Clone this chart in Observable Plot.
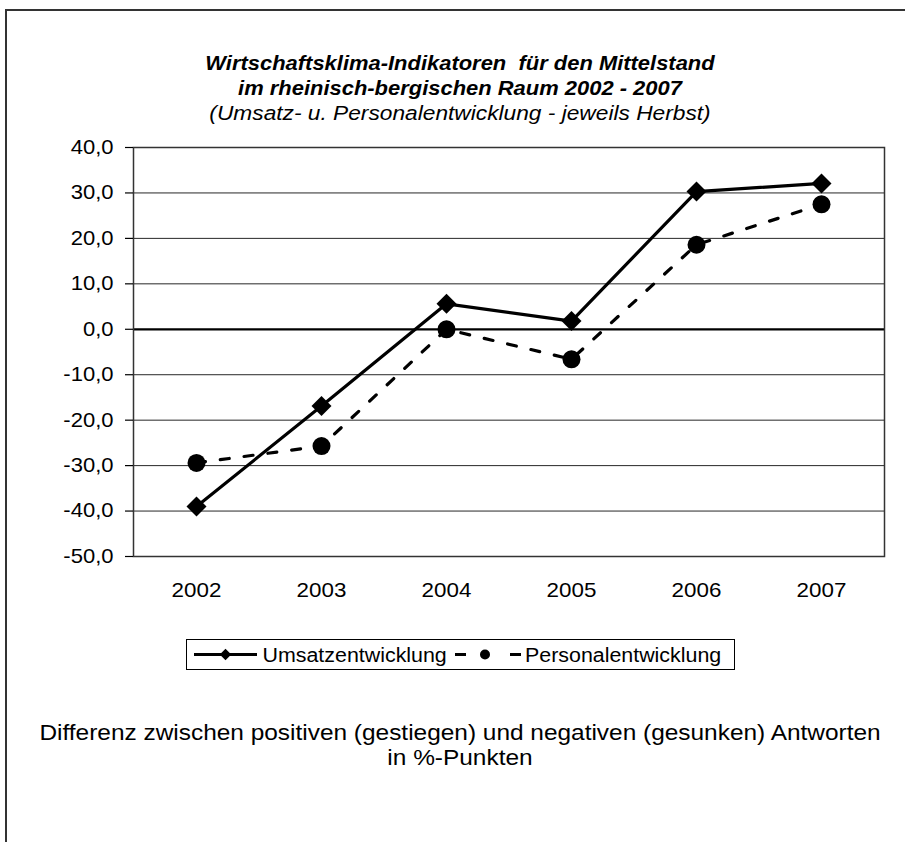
<!DOCTYPE html>
<html><head><meta charset="utf-8">
<script src="https://cdn.jsdelivr.net/npm/d3@7"></script>
<script src="https://cdn.jsdelivr.net/npm/@observablehq/plot@0.6"></script>
<style>
body{margin:0;background:#fff;font-family:"Liberation Sans",Arial,sans-serif;}
#wrap{position:relative;width:905px;height:842px;overflow:hidden;background:#fff;}
#frame{position:absolute;left:5px;top:9px;width:1000px;height:900px;border-left:2px solid #333;border-top:2px solid #333;z-index:2;pointer-events:none;}
.t{position:absolute;left:0;width:920px;text-align:center;color:#000;white-space:nowrap;font-family:"Liberation Sans",Arial,sans-serif;line-height:25px;transform-origin:460px 50%;}
#chart{position:absolute;left:0;top:0;}
#legend{position:absolute;left:186px;top:639px;}
</style></head><body>
<div id="wrap">
<div id="chart"></div>
<div id="frame"></div>
<div class="t" style="top:51px;font-size:20px;font-weight:bold;font-style:italic;transform:scaleX(1.097);">Wirtschaftsklima-Indikatoren&nbsp; für den Mittelstand</div>
<div class="t" style="top:76px;font-size:20px;font-weight:bold;font-style:italic;transform:scaleX(1.097);">im rheinisch-bergischen Raum 2002 - 2007</div>
<div class="t" style="top:101px;font-size:20px;font-style:italic;transform:scaleX(1.136);">(Umsatz- u. Personalentwicklung - jeweils Herbst)</div>
<svg id="legend" width="552" height="33"></svg>
<div class="t" style="top:720px;font-size:22px;transform:scaleX(1.11);">Differenz zwischen positiven (gestiegen) und negativen (gesunken) Antworten</div>
<div class="t" style="top:745px;font-size:22px;transform:scaleX(1.11);">in %-Punkten</div>
</div>
<script>
const years = ["2002", "2003", "2004", "2005", "2006", "2007"];
const umsatz = [-39.0, -16.9, 5.6, 1.8, 30.3, 32.1];
const personal = [-29.4, -25.7, 0.0, -6.6, 18.6, 27.5];
const yTicks = [40, 30, 20, 10, 0, -10, -20, -30, -40, -50];
const seriesNames = ["Umsatzentwicklung", "Personalentwicklung"];

const dataU = years.map((y, i) => ({year: y, value: umsatz[i]}));
const dataP = years.map((y, i) => ({year: y, value: personal[i]}));
const fmt = d => d.toFixed(1).replace(".", ",");

const chart = Plot.plot({
  width: 905,
  height: 620,
  marginLeft: 133,
  marginRight: 21,
  marginTop: 147,
  marginBottom: 64,
  style: {background: "transparent", fontFamily: "'Liberation Sans', Arial, sans-serif", fontSize: "20px", color: "#000", overflow: "visible"},
  x: {type: "point", domain: years, padding: 0.5, label: null},
  y: {domain: [-50, 40], label: null},
  marks: [
    Plot.ruleY(yTicks.filter(d => d !== 0 && d !== 40 && d !== -50), {stroke: "#000", strokeWidth: 1, strokeOpacity: 0.85}),
    Plot.ruleY([0], {stroke: "#000", strokeWidth: 2.3}),
    Plot.frame({stroke: "#333", strokeWidth: 1.5}),
    Plot.axisY({ticks: yTicks, tickFormat: fmt, tickSize: 8, tickPadding: 12, stroke: "#000", strokeWidth: 1.2, fontSize: 20}),
    Plot.axisX({tickSize: 0, tickPadding: 26, fontSize: 20}),
    Plot.line(dataP, {x: "year", y: "value", stroke: "#000", strokeWidth: 3.2, strokeDasharray: "9,15", strokeLinejoin: "miter"}),
    Plot.dot(dataP, {x: "year", y: "value", r: 9, fill: "#000", stroke: "none"}),
    Plot.line(dataU, {x: "year", y: "value", stroke: "#000", strokeWidth: 3.2}),
    Plot.dot(dataU, {x: "year", y: "value", symbol: "diamond2", r: 9, fill: "#000", stroke: "none"})
  ]
});
// slight horizontal stretch of axis labels, as in the reference
d3.select(chart).selectAll("g[aria-label='y-axis tick label'] text").each(function() {
  const t = this.getAttribute("transform") || "";
  this.setAttribute("transform", t + " scale(1.1,1)");
});
d3.select(chart).selectAll("g[aria-label='x-axis tick label'] text").each(function() {
  const t = this.getAttribute("transform") || "";
  this.setAttribute("transform", t + " scale(1.12,1)");
});
document.getElementById("chart").appendChild(chart);

// legend
const lg = d3.select("#legend");
const ff = "'Liberation Sans', Arial, sans-serif";
lg.append("rect").attr("x", 0.5).attr("y", 0.5).attr("width", 548).attr("height", 30).attr("fill", "#fff").attr("stroke", "#000").attr("stroke-width", 1);
lg.append("line").attr("x1", 8).attr("x2", 71).attr("y1", 15.5).attr("y2", 15.5).attr("stroke", "#000").attr("stroke-width", 3.2);
lg.append("path").attr("d", d3.symbol(d3.symbolDiamond2, Math.PI * 5.2 * 5.2)()).attr("transform", "translate(39.5,15.5)").attr("fill", "#000");
lg.append("text").attr("transform", "translate(76.5,22.5) scale(1.07,1)").attr("font-size", 20).attr("font-family", ff).text(seriesNames[0]);
lg.append("line").attr("x1", 269).attr("x2", 335).attr("y1", 15.5).attr("y2", 15.5).attr("stroke", "#000").attr("stroke-width", 3.2).attr("stroke-dasharray", "11,44");
lg.append("circle").attr("cx", 299).attr("cy", 15.5).attr("r", 5).attr("fill", "#000");
lg.append("text").attr("transform", "translate(339,22.5) scale(1.07,1)").attr("font-size", 20).attr("font-family", ff).text(seriesNames[1]);
</script>
</body></html>
